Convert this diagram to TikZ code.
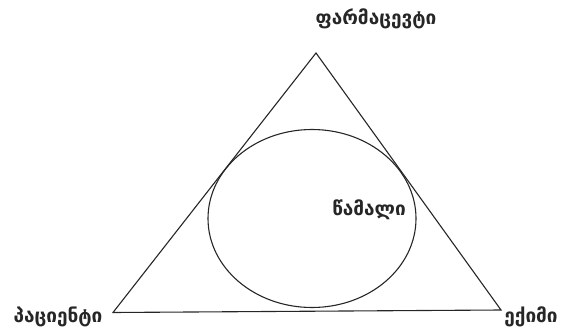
\documentclass[tikz,border=0pt]{standalone}
\usepackage{fontspec}
\usetikzlibrary{shapes.geometric}
\newfontfamily\geofont{DejaVu Sans}
\begin{document}
\begin{tikzpicture}[x=1pt,y=-1pt,
  lbl/.style={font=\geofont\bfseries\fontsize{19}{21}\selectfont, inner sep=0pt, text=black!85},
  edge/.style={draw=black!85, line width=1.1pt}]
\useasboundingbox (0,0) rectangle (564,331);
\coordinate (A) at (316,53);
\coordinate (B) at (113,312.5);
\coordinate (C) at (501,310);
\draw[edge] (A) -- (B) -- (C) -- cycle;
\node[edge, ellipse, draw, minimum width=208pt, minimum height=178pt, inner sep=0pt, fill=none] (E) at (312,218.5) {};
\node[lbl] (ph) at (376,19) {ფარმაცევტი};
\node[lbl] (med) at (369,210) {წამალი};
\node[lbl] (pat) at (58,317) {პაციენტი};
\node[lbl] (doc) at (531,317) {ექიმი};
\end{tikzpicture}
\end{document}
